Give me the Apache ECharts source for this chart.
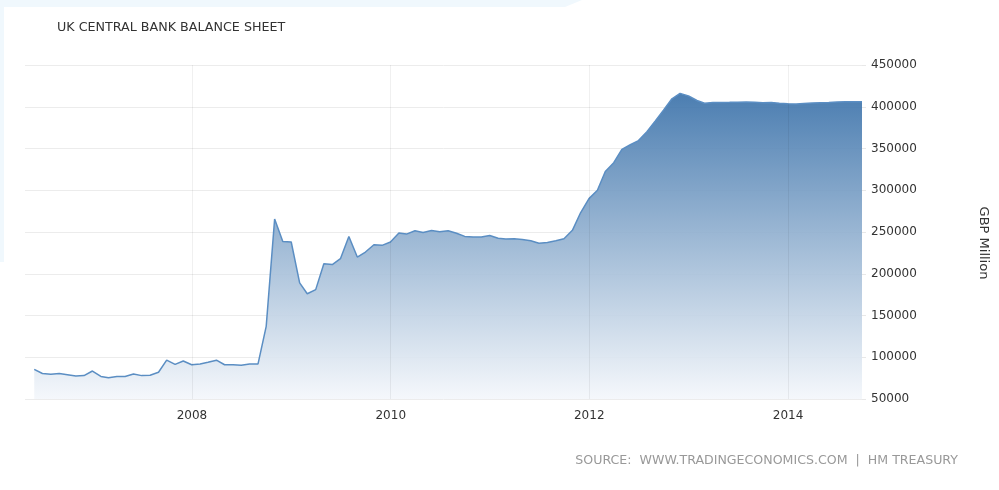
<!DOCTYPE html>
<html>
<head>
<meta charset="utf-8">
<script src="https://cdn.jsdelivr.net/npm/echarts@6/dist/echarts.min.js"></script>
<style>
html,body{margin:0;padding:0;background:#fff;}
#chart{width:999px;height:490px;}
</style>
</head>
<body>
<div id="chart"></div>
<script>
// Month (data stamped at month end)
const months = [
 '2006-05','2006-06','2006-07','2006-08','2006-09','2006-10','2006-11','2006-12',
 '2007-01','2007-02','2007-03','2007-04','2007-05','2007-06','2007-07','2007-08','2007-09','2007-10','2007-11','2007-12',
 '2008-01','2008-02','2008-03','2008-04','2008-05','2008-06','2008-07','2008-08','2008-09','2008-10','2008-11','2008-12',
 '2009-01','2009-02','2009-03','2009-04','2009-05','2009-06','2009-07','2009-08','2009-09','2009-10','2009-11','2009-12',
 '2010-01','2010-02','2010-03','2010-04','2010-05','2010-06','2010-07','2010-08','2010-09','2010-10','2010-11','2010-12',
 '2011-01','2011-02','2011-03','2011-04','2011-05','2011-06','2011-07','2011-08','2011-09','2011-10','2011-11','2011-12',
 '2012-01','2012-02','2012-03','2012-04','2012-05','2012-06','2012-07','2012-08','2012-09','2012-10','2012-11','2012-12',
 '2013-01','2013-02','2013-03','2013-04','2013-05','2013-06','2013-07','2013-08','2013-09','2013-10','2013-11','2013-12',
 '2014-01','2014-02','2014-03','2014-04','2014-05','2014-06','2014-07','2014-08','2014-09'
];
// GBP Million
const balance = [
 85500,80500,79500,80500,79000,77500,78000,83500,
 77000,75500,77000,77000,80000,78000,78500,82000,96500,91500,95500,91000,
 92000,94000,96500,91000,91000,90500,92000,92000,137000,265500,238700,238000,
 189000,176000,181000,212000,211000,218000,244700,220000,226000,234700,234000,238000,
 248700,247500,251500,249500,251800,250300,251500,248500,244700,244000,244000,245800,
 242500,241500,241900,241000,239500,236500,237500,239500,241800,252000,273000,290000,
 300000,322400,333000,349000,354500,359500,370000,383000,396000,409500,416000,413000,
 407500,404200,405000,405200,405300,405500,405800,405500,404800,405000,404200,403500,
 403400,404000,404500,404800,405000,405800,406100,406100,406100
];
const yearTicks = ['2008','2010','2012','2014'];
const yTicks = [50000,100000,150000,200000,250000,300000,350000,400000,450000];

const titleText = 'UK CENTRAL BANK BALANCE SHEET';
const sourceText = 'SOURCE:  WWW.TRADINGECONOMICS.COM  |  HM TREASURY';
const unitText = 'GBP Million';

function monthEnd(m){
  const [y, mo] = m.split('-').map(Number);
  return Date.UTC(y, mo, 0);
}
const seriesData = months.map((m, i) => [monthEnd(m), balance[i]]);
const FONT = 'DejaVu Sans';

const chart = echarts.init(document.getElementById('chart'), null, {renderer: 'canvas'});
chart.setOption({
  animation: false,
  backgroundColor: '#ffffff',
  grid: {left: 25, right: 137, top: 65, bottom: 91, containLabel: false},
  xAxis: {
    type: 'time',
    min: Date.UTC(2006, 3, 27),
    max: seriesData[seriesData.length - 1][0],
    axisLine: {show: false},
    axisTick: {show: false},
    axisLabel: {show: false},
    splitLine: {show: false}
  },
  yAxis: {
    type: 'value',
    position: 'right',
    min: yTicks[0],
    max: yTicks[yTicks.length - 1],
    interval: 50000,
    axisLine: {show: false},
    axisTick: {show: true, length: 4, lineStyle: {color: '#e8e8e8'}},
    axisLabel: {margin: 9, color: '#333', fontSize: 12, fontFamily: FONT, formatter: v => String(v)},
    splitLine: {show: true, lineStyle: {color: '#ececec', width: 1}}
  },
  series: [{
    type: 'line',
    data: seriesData,
    showSymbol: false,
    symbol: 'none',
    smooth: false,
    lineStyle: {color: '#5b8ec3', width: 1.5},
    areaStyle: {
      opacity: 1,
      color: new echarts.graphic.LinearGradient(0, 0, 0, 1, [
        {offset: 0, color: 'rgba(62,116,171,0.93)'},
        {offset: 1, color: 'rgba(244,247,251,0.9)'}
      ])
    },
    markLine: {
      silent: true,
      symbol: 'none',
      animation: false,
      lineStyle: {color: 'rgba(0,0,0,0.06)', type: 'solid', width: 1},
      label: {show: true, position: 'start', distance: 11, color: '#333', fontSize: 12, fontFamily: FONT,
              formatter: p => p.name},
      emphasis: {disabled: true},
      data: yearTicks.map(y => ({name: y, xAxis: Date.UTC(Number(y), 0, 1)}))
    }
  }],
  graphic: [
    {type: 'polygon', z: -10, silent: true,
     shape: {points: [[0,0],[582,0],[565,7],[4,7],[4,262],[0,262]]},
     style: {fill: '#f0f8fd'}},
    {type: 'text', left: 57, top: 21, silent: true,
     style: {text: titleText, fill: '#333', font: 'normal 12.7px "DejaVu Sans"'}},
    {type: 'text', silent: true, x: 958, y: 461,
     style: {text: sourceText, fill: '#999', font: 'normal 12.6px "DejaVu Sans"', align: 'right', verticalAlign: 'middle'}},
    {type: 'text', silent: true, x: 983, y: 243, rotation: -Math.PI / 2,
     style: {text: unitText, fill: '#333', font: 'normal 13px "DejaVu Sans"', align: 'center', verticalAlign: 'middle'}}
  ]
});
</script>
</body>
</html>
